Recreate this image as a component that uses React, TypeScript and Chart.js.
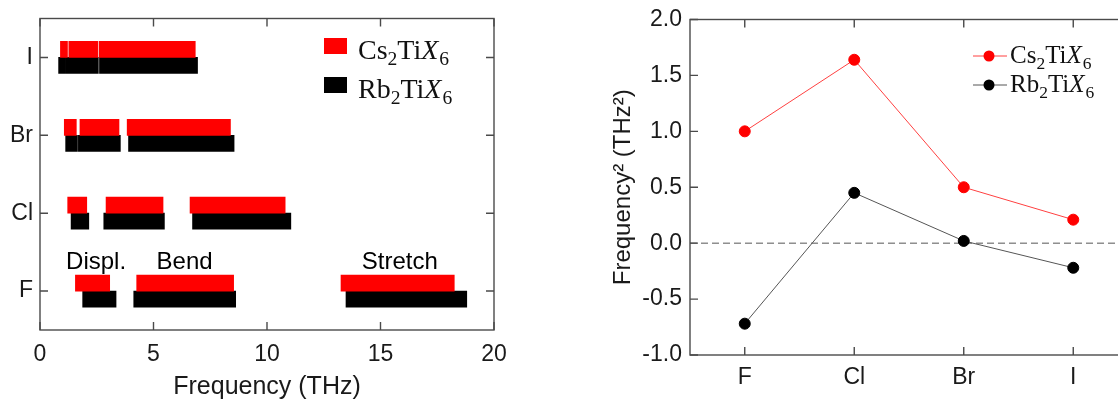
import React, { useEffect, useRef } from 'react';
import { Chart, registerables } from 'chart.js';

Chart.register(...registerables);
Chart.defaults.font.family = '"Liberation Sans", Arial, Helvetica, sans-serif';
Chart.defaults.color = '#1a1a1a';

// ---------- Left panel: phonon band ranges (THz), halides top to bottom ----------
const halides = ['I', 'Br', 'Cl', 'F'];
const freqTicks = [0, 5, 10, 15, 20];
const csBand1 = [[0.90, 1.21], [1.07, 1.60], [1.22, 2.06], [1.56, 3.07]];
const csBand2 = [[1.27, 2.54], [1.76, 3.48], [2.91, 5.42], [4.26, 8.53]];
const csBand3 = [[2.60, 6.84], [3.84, 8.39], [6.61, 10.80], [13.26, 18.25]];
const rbBand1 = [[0.82, 1.13], [1.13, 1.65], [1.37, 2.15], [1.88, 3.35]];
const rbBand2 = [[1.16, 2.57], [1.69, 3.54], [2.81, 5.48], [4.13, 8.62]];
const rbBand3 = [[2.62, 6.94], [3.90, 8.55], [6.72, 11.05], [13.48, 18.80]];
const modeLabels = ['Displ.', 'Bend', 'Stretch'];
const modeCenters = [2.47, 6.37, 15.85];

// ---------- Right panel: frequency squared (THz^2) ----------
const halidesR = ['F', 'Cl', 'Br', 'I'];
const csFreq2 = [1.0, 1.64, 0.5, 0.21];
const rbFreq2 = [-0.72, 0.45, 0.02, -0.22];
const freq2Ticks = [-1, -0.5, 0, 0.5, 1, 1.5, 2];

type Part = { t: string; sub?: boolean; it?: boolean };
const csFormula: Part[] = [{ t: 'Cs' }, { t: '2', sub: true }, { t: 'Ti' }, { t: 'X', it: true }, { t: '6', sub: true }];
const rbFormula: Part[] = [{ t: 'Rb' }, { t: '2', sub: true }, { t: 'Ti' }, { t: 'X', it: true }, { t: '6', sub: true }];

function drawRich(ctx: CanvasRenderingContext2D, parts: Part[], x: number, y: number, size: number) {
  let cx = x;
  ctx.textAlign = 'left';
  ctx.textBaseline = 'alphabetic';
  for (const p of parts) {
    const s = p.sub ? size * 0.7 : size;
    ctx.font = `${p.it ? 'italic ' : ''}${s}px "Liberation Serif", "Times New Roman", serif`;
    const dy = p.sub ? size * 0.22 : 0;
    ctx.fillText(p.t, cx, y + dy);
    cx += ctx.measureText(p.t).width + (p.it ? 1 : 0);
  }
}

const FRAME = '#4a4a4a';

const framePlugin = {
  id: 'frame',
  afterDatasetsDraw(chart: any) {
    const { ctx, chartArea: a, scales } = chart;
    const xs = scales.x;
    const ys = scales.y;
    const L = 8;
    ctx.save();
    ctx.strokeStyle = FRAME;
    ctx.lineWidth = 1.4;
    ctx.beginPath();
    xs.ticks.forEach((_t: any, i: number) => {
      const px = xs.getPixelForTick(i);
      ctx.moveTo(px, a.top);
      ctx.lineTo(px, a.top + L);
      ctx.moveTo(px, a.bottom);
      ctx.lineTo(px, a.bottom - L);
    });
    ys.ticks.forEach((_t: any, i: number) => {
      const py = ys.getPixelForTick(i);
      ctx.moveTo(a.left, py);
      ctx.lineTo(a.left + L, py);
      ctx.moveTo(a.right, py);
      ctx.lineTo(a.right - L, py);
    });
    ctx.stroke();
    ctx.strokeRect(a.left, a.top, a.right - a.left, a.bottom - a.top);
    ctx.restore();
  },
};

const leftDecorPlugin = {
  id: 'leftDecor',
  afterDatasetsDraw(chart: any) {
    const { ctx, scales } = chart;
    const xs = scales.x;
    const ys = scales.y;
    ctx.save();
    // mode annotations
    const yF = ys.getPixelForTick(3);
    const yCl = ys.getPixelForTick(2);
    const base = yF - (yF - yCl) * 0.285;
    ctx.fillStyle = '#000';
    ctx.font = '24px "Liberation Sans", Arial, sans-serif';
    ctx.textAlign = 'center';
    ctx.textBaseline = 'alphabetic';
    modeLabels.forEach((m, i) => {
      ctx.fillText(m, xs.getPixelForValue(modeCenters[i]), base);
    });
    // legend
    const lx = 324;
    const rows = [
      { color: '#ff0000', parts: csFormula, top: 38 },
      { color: '#000000', parts: rbFormula, top: 77 },
    ];
    rows.forEach((r) => {
      ctx.fillStyle = r.color;
      ctx.fillRect(lx, r.top, 23, 16);
      ctx.fillStyle = '#111';
      drawRich(ctx, r.parts, 358, r.top + 21, 28);
    });
    ctx.restore();
  },
};

const rightDecorPlugin = {
  id: 'rightDecor',
  beforeDatasetsDraw(chart: any) {
    const { ctx, chartArea: a, scales } = chart;
    const y0 = scales.y.getPixelForValue(0);
    ctx.save();
    ctx.strokeStyle = '#555';
    ctx.lineWidth = 1;
    ctx.setLineDash([7, 4]);
    ctx.beginPath();
    ctx.moveTo(a.left, y0);
    ctx.lineTo(a.right, y0);
    ctx.stroke();
    ctx.restore();
  },
  afterDatasetsDraw(chart: any) {
    const { ctx } = chart;
    // legend (canvas starts at page x=560)
    const rows = [
      { line: '#ff4040', dot: '#ff0000', parts: csFormula, y: 56 },
      { line: '#555555', dot: '#000000', parts: rbFormula, y: 85 },
    ];
    ctx.save();
    rows.forEach((r) => {
      ctx.strokeStyle = r.line;
      ctx.lineWidth = 1;
      ctx.beginPath();
      ctx.moveTo(413, r.y);
      ctx.lineTo(447, r.y);
      ctx.stroke();
      ctx.fillStyle = r.dot;
      ctx.beginPath();
      ctx.arc(429, r.y, 5.5, 0, Math.PI * 2);
      ctx.fill();
      ctx.fillStyle = '#111';
      drawRich(ctx, r.parts, 450, r.y + 7, 25);
    });
    ctx.restore();
  },
};

function bandDataset(label: string, data: number[][], color: string, stack: string) {
  return {
    label,
    data,
    backgroundColor: color,
    borderWidth: 0,
    stack,
    barThickness: 16,
  };
}

function LeftChart() {
  const ref = useRef<HTMLCanvasElement>(null);
  useEffect(() => {
    if (!ref.current) return;
    const chart = new Chart(ref.current, {
      type: 'bar',
      data: {
        labels: halides,
        datasets: [
          bandDataset('Cs2TiX6 band 1', csBand1, '#ff0000', 'Cs'),
          bandDataset('Cs2TiX6 band 2', csBand2, '#ff0000', 'Cs'),
          bandDataset('Cs2TiX6 band 3', csBand3, '#ff0000', 'Cs'),
          bandDataset('Rb2TiX6 band 1', rbBand1, '#000000', 'Rb'),
          bandDataset('Rb2TiX6 band 2', rbBand2, '#000000', 'Rb'),
          bandDataset('Rb2TiX6 band 3', rbBand3, '#000000', 'Rb'),
        ] as any,
      },
      options: {
        indexAxis: 'y',
        animation: false,
        responsive: false,
        layout: { padding: { left: 0, right: 26, top: 14, bottom: 0 } },
        plugins: { legend: { display: false }, tooltip: { enabled: false } },
        scales: {
          x: {
            type: 'linear',
            min: freqTicks[0],
            max: freqTicks[freqTicks.length - 1],
            stacked: false,
            afterBuildTicks: (s: any) => {
              s.ticks = freqTicks.map((v) => ({ value: v }));
            },
            ticks: { font: { size: 23, lineHeight: 1 }, padding: 13, color: '#1a1a1a' },
            grid: { display: false, drawTicks: false },
            border: { display: false },
            title: {
              display: true,
              text: 'Frequency (THz)',
              font: { size: 25, lineHeight: 1 },
              padding: 0,
              color: '#1a1a1a',
            },
            afterFit: (s: any) => {
              s.height = 70;
            },
          },
          y: {
            type: 'category',
            ticks: { font: { size: 23, lineHeight: 1 }, padding: 7, color: '#1a1a1a' },
            grid: { display: false, drawTicks: false },
            border: { display: false },
            afterFit: (s: any) => {
              s.width = 40;
            },
          },
        },
      } as any,
      plugins: [framePlugin, leftDecorPlugin],
    });
    return () => chart.destroy();
  }, []);
  return <canvas ref={ref} width={520} height={400} style={{ position: 'absolute', left: 0, top: 0 }} />;
}

function RightChart() {
  const ref = useRef<HTMLCanvasElement>(null);
  useEffect(() => {
    if (!ref.current) return;
    const chart = new Chart(ref.current, {
      type: 'line',
      data: {
        labels: halidesR,
        datasets: [
          {
            label: 'Cs2TiX6',
            data: csFreq2,
            borderColor: '#ff4040',
            backgroundColor: '#ff0000',
            pointBackgroundColor: '#ff0000',
            pointBorderColor: '#ff0000',
            pointRadius: 5.5,
            borderWidth: 1,
            tension: 0,
          },
          {
            label: 'Rb2TiX6',
            data: rbFreq2,
            borderColor: '#555555',
            backgroundColor: '#000000',
            pointBackgroundColor: '#000000',
            pointBorderColor: '#000000',
            pointRadius: 5.5,
            borderWidth: 1,
            tension: 0,
          },
        ],
      },
      options: {
        animation: false,
        responsive: false,
        layout: { padding: { left: 50, right: 32, top: 14, bottom: 0 } },
        plugins: { legend: { display: false }, tooltip: { enabled: false } },
        scales: {
          x: {
            type: 'category',
            offset: true,
            ticks: { font: { size: 23, lineHeight: 1 }, padding: 11, color: '#1a1a1a' },
            grid: { display: false, drawTicks: false },
            border: { display: false },
            afterFit: (s: any) => {
              s.height = 45;
            },
          },
          y: {
            type: 'linear',
            min: freq2Ticks[0],
            max: freq2Ticks[freq2Ticks.length - 1],
            afterBuildTicks: (s: any) => {
              s.ticks = freq2Ticks.map((v) => ({ value: v }));
            },
            ticks: {
              font: { size: 23, lineHeight: 1 },
              padding: 8,
              color: '#1a1a1a',
              callback: (v: any) => Number(v).toFixed(1),
            },
            grid: { display: false, drawTicks: false },
            border: { display: false },
            title: {
              display: true,
              text: 'Frequency² (THz²)',
              font: { size: 24, lineHeight: 1.1 },
              padding: 0,
              color: '#1a1a1a',
            },
            afterFit: (s: any) => {
              s.width = 80;
            },
          },
        },
      } as any,
      plugins: [rightDecorPlugin, framePlugin],
    });
    return () => chart.destroy();
  }, []);
  return <canvas ref={ref} width={600} height={400} style={{ position: 'absolute', left: 560, top: 0 }} />;
}

export default function App() {
  return (
    <div
      style={{
        position: 'fixed',
        left: 0,
        top: 0,
        width: 1118,
        height: 400,
        overflow: 'hidden',
        background: '#fff',
      }}
    >
      <LeftChart />
      <RightChart />
    </div>
  );
}
